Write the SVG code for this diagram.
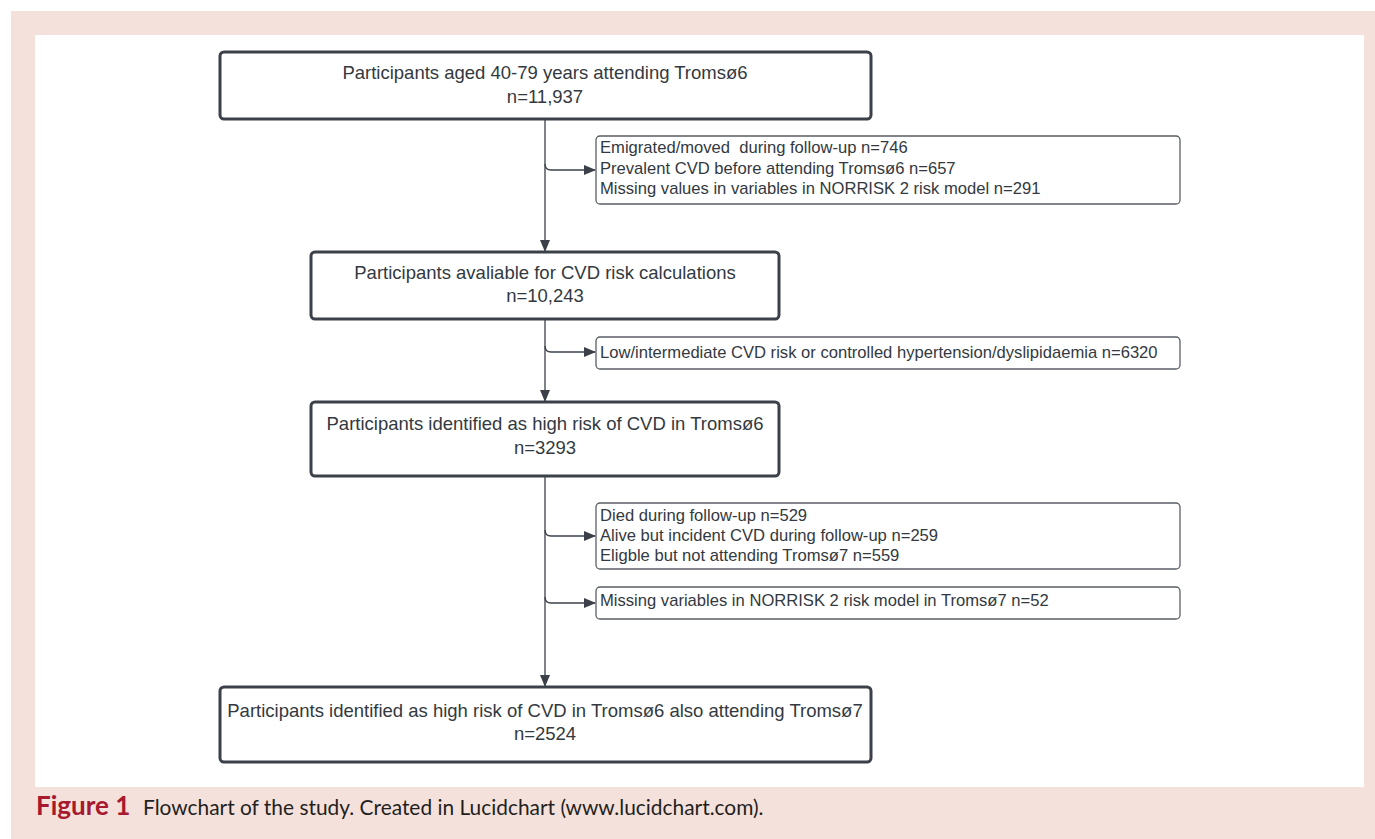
<svg xmlns="http://www.w3.org/2000/svg" width="1375" height="839" viewBox="0 0 1375 839">
<style>
.main{fill:#fff;stroke:#3b4049;stroke-width:3}
.side{fill:#fff;stroke:#5a5f66;stroke-width:1.3}
.t{font-family:"Liberation Sans",Arial,sans-serif;font-size:18.5px;fill:#333940}
.ts{font-family:"Liberation Sans",Arial,sans-serif;font-size:16.6px;fill:#333940;white-space:pre}
.c{fill:none;stroke:#3b4049;stroke-width:1.3}
</style>
<defs>
<marker id="ah" markerWidth="12" markerHeight="10" refX="11" refY="5" orient="auto" markerUnits="userSpaceOnUse">
<path d="M0,0 L12,5 L0,10 Z" fill="#3b4049"/>
</marker>
</defs>
<rect x="0" y="0" width="1375" height="839" fill="#fff"/>
<rect x="11" y="11" width="1364" height="828" fill="#f5e1dc"/>
<rect x="35" y="35" width="1329" height="752" fill="#fff"/>
<g id="connectors">
<line class="c" x1="545" y1="120" x2="545" y2="251" marker-end="url(#ah)"/>
<path class="c" d="M545,164 Q545,170 551,170 L595,170" marker-end="url(#ah)"/>
<line class="c" x1="545" y1="320" x2="545" y2="401" marker-end="url(#ah)"/>
<path class="c" d="M545,346 Q545,352 551,352 L595,352" marker-end="url(#ah)"/>
<line class="c" x1="545" y1="477" x2="545" y2="686" marker-end="url(#ah)"/>
<path class="c" d="M545,530 Q545,536 551,536 L595,536" marker-end="url(#ah)"/>
<path class="c" d="M545,597 Q545,603 551,603 L595,603" marker-end="url(#ah)"/>
</g>
<g id="n1">
<rect class="main" x="220" y="52" width="651" height="67" rx="4"/>
<text class="t" x="545" y="79" text-anchor="middle">Participants aged 40-79 years attending Tromsø6</text>
<text class="t" x="545" y="103" text-anchor="middle">n=11,937</text>
</g>
<g id="s1">
<rect class="side" x="596" y="136" width="584" height="68" rx="4"/>
<text class="ts" x="600" y="153" xml:space="preserve">Emigrated/moved  during follow-up n=746</text>
<text class="ts" x="600" y="174">Prevalent CVD before attending Tromsø6 n=657</text>
<text class="ts" x="600" y="194">Missing values in variables in NORRISK 2 risk model n=291</text>
</g>
<g id="n2">
<rect class="main" x="311" y="252" width="468" height="67" rx="4"/>
<text class="t" x="545" y="279" text-anchor="middle">Participants avaliable for CVD risk calculations</text>
<text class="t" x="545" y="302" text-anchor="middle">n=10,243</text>
</g>
<g id="s2">
<rect class="side" x="596" y="337" width="584" height="32" rx="4"/>
<text class="ts" x="600" y="358">Low/intermediate CVD risk or controlled hypertension/dyslipidaemia n=6320</text>
</g>
<g id="n3">
<rect class="main" x="311" y="402" width="468" height="74" rx="4"/>
<text class="t" x="545" y="430" text-anchor="middle">Participants identified as high risk of CVD in Tromsø6</text>
<text class="t" x="545" y="454" text-anchor="middle">n=3293</text>
</g>
<g id="s3">
<rect class="side" x="596" y="503" width="584" height="66" rx="4"/>
<text class="ts" x="600" y="521">Died during follow-up n=529</text>
<text class="ts" x="600" y="541">Alive but incident CVD during follow-up n=259</text>
<text class="ts" x="600" y="561">Eligble but not attending Tromsø7 n=559</text>
</g>
<g id="s4">
<rect class="side" x="596" y="587" width="584" height="32" rx="4"/>
<text class="ts" x="600" y="606">Missing variables in NORRISK 2 risk model in Tromsø7 n=52</text>
</g>
<g id="n4">
<rect class="main" x="220" y="687" width="651" height="75" rx="4"/>
<text class="t" x="545" y="717" text-anchor="middle">Participants identified as high risk of CVD in Tromsø6 also attending Tromsø7</text>
<text class="t" x="545" y="740" text-anchor="middle">n=2524</text>
</g>
<g id="caption">
<text x="36" y="815" font-family="Lato,'Open Sans',sans-serif" font-size="26" font-weight="bold" fill="#a6192e">Figure 1</text>
<text x="143" y="815" font-family="Lato,'Open Sans',sans-serif" font-size="20.9" fill="#231f20">Flowchart of the study. Created in Lucidchart (www.lucidchart.com).</text>
</g>
</svg>
